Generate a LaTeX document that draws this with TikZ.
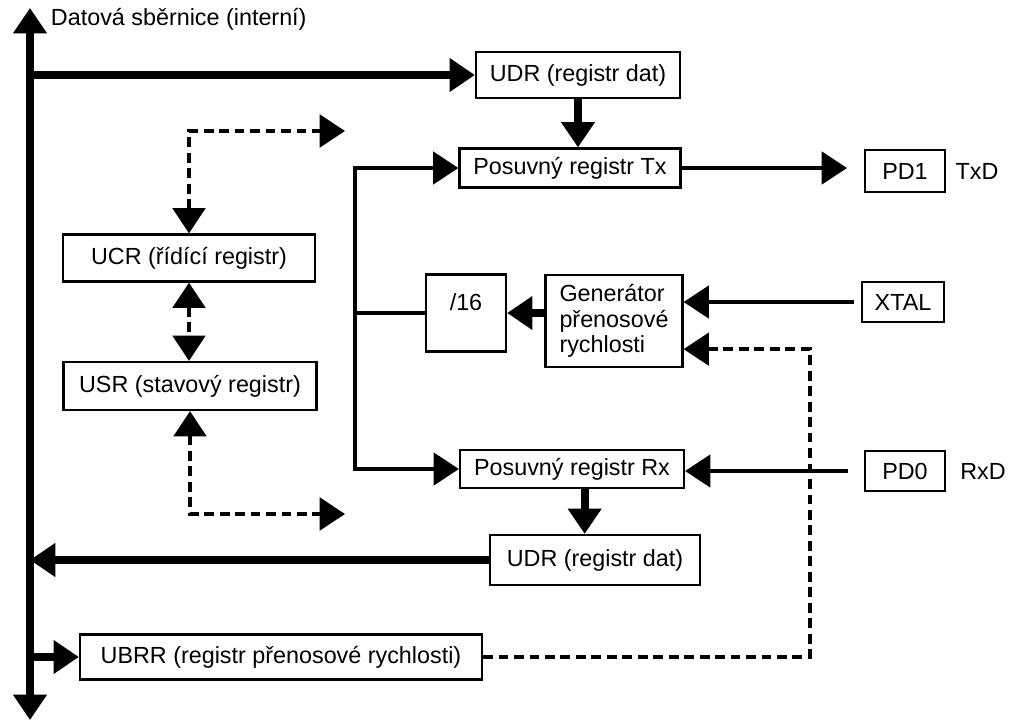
\documentclass[tikz,border=0pt]{standalone}
\usepackage{fontspec}
\setmainfont{Liberation Sans}
\usepackage{tikz}
\usetikzlibrary{arrows.meta}
\newlength\px
\setlength\px{0.025cm}

\begin{document}
\begin{tikzpicture}[
    x=0.025cm, y=-0.025cm,
    font=\fontsize{16.6}{18}\selectfont,
    box/.style={rectangle, draw, line width=1.6pt, inner sep=0pt, text centered},
    tipend/.style={-{Triangle[length=18pt,width=23pt]}},
    tipboth/.style={{Triangle[length=18pt,width=23pt]}-{Triangle[length=18pt,width=23pt]}},
    thickline/.style={line width=5.5pt, tipend},
    thinline/.style={line width=2.8pt, tipend},
    dashline/.style={line width=3pt, dash pattern=on 7pt off 4pt}
]
\useasboundingbox (0,0) rectangle (1020,724);

% data bus
\coordinate (bustop) at (30,8);
\coordinate (busbot) at (30,720);
\draw[line width=5.5pt, tipboth] (bustop) -- (busbot);
\node[anchor=west] (buslabel) at (46,19) {Datová sběrnice (interní)};

% registers
\node[box, minimum width=204\px, minimum height=46\px] (udrtop) at (578,75) {UDR (registr dat)};
\node[box, minimum width=221\px, minimum height=39\px] (txreg) at (570,168) {Posuvný registr Tx};
\node[box, minimum width=80\px, minimum height=77\px] (div) at (466,313) {\raisebox{16pt}{/16}};
\node[box, minimum width=137\px, minimum height=92\px, align=left] (gen) at (614,321) {Generátor\\přenosové\\rychlosti};
\node[box, minimum width=224\px, minimum height=38\px] (rxreg) at (572,469) {Posuvný registr Rx};
\node[box, minimum width=210\px, minimum height=50\px] (udrbot) at (595,560) {UDR (registr dat)};
\node[box, minimum width=402\px, minimum height=45\px] (ubrr) at (281,657) {UBRR (registr přenosové rychlosti)};
\node[box, minimum width=252\px, minimum height=47\px] (ucr) at (189,258) {UCR (řídící registr)};
\node[box, minimum width=253\px, minimum height=48\px] (usr) at (190,386) {USR (stavový registr)};

% pins
\node[box, minimum width=80\px, minimum height=42\px] (pdone) at (905,171) {PD1};
\node (txd) at (977,171) {TxD};
\node[box, minimum width=82\px, minimum height=40\px] (xtal) at (903,302) {XTAL};
\node[box, minimum width=80\px, minimum height=40\px] (pdzero) at (905,471) {PD0};
\node (rxd) at (983,471) {RxD};

% transmit path
\draw[thickline] (bustop |- udrtop.west) -- (udrtop.west);
\draw[thickline] (udrtop.south) -- (udrtop.south |- txreg.north);
\draw[thinline, shorten >=12pt] (txreg.east) -- (txreg.east -| pdone.west);

% clock
\draw[thinline] ([xshift=-5pt]xtal.west) -- (xtal.west -| gen.east);
\draw[thickline] (gen.west |- div.east) -- (div.east);
\coordinate (split) at (355,313);
\draw[line width=2.8pt] (div.west) -- (split);
\draw[thinline] (split) |- (txreg.west);
\draw[thinline] (split) |- (rxreg.west);

% receive path
\draw[thinline] ([xshift=-11pt]pdzero.west) -- (pdzero.west -| rxreg.east);
\draw[thickline] ([xshift=9pt]rxreg.south) -- ([xshift=9pt]rxreg.south |- udrbot.north);
\draw[thickline] (udrbot.west) -- (bustop |- udrbot.west);

% baud rate
\draw[thickline] (bustop |- ubrr.west) -- (ubrr.west);
\coordinate (turn) at (810,657);
\draw[dashline, tipend] (ubrr.east) -- (turn) |- ([yshift=-20pt]gen.east);

% control / status
\coordinate (ctltop) at (345,131);
\coordinate (ctlbot) at (345,514);
\draw[dashline, tipboth] (ucr.north) |- (ctltop);
\draw[dashline, tipboth] (ucr.south) -- (ucr.south |- usr.north);
\draw[dashline, tipboth] (usr.south) |- (ctlbot);

\end{tikzpicture}
\end{document}
